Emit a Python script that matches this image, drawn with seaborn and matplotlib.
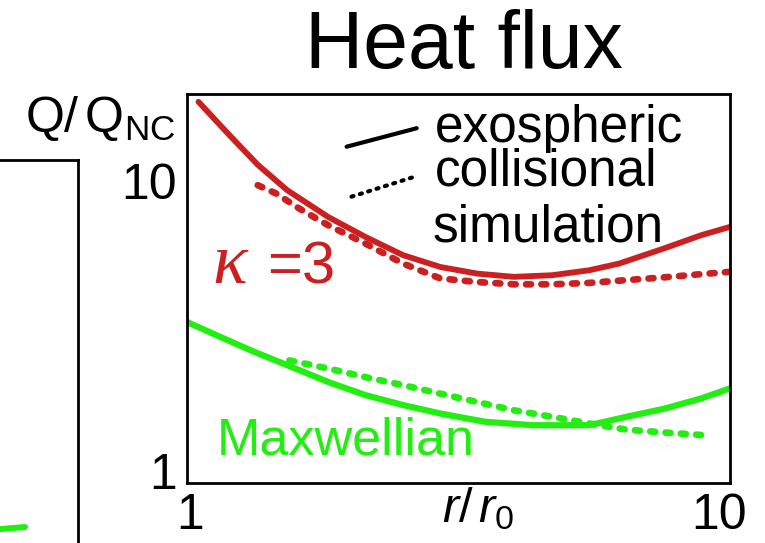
import matplotlib
matplotlib.use("Agg")
import matplotlib.pyplot as plt
import matplotlib.transforms as mtransforms
import seaborn as sns
import numpy as np

# ---------------- data ----------------
r_kappa_exo = [1.05, 1.19, 1.35, 1.53, 1.82, 2.13, 2.5, 2.93, 3.43, 4.0, 4.7, 5.5, 6.25, 7.55, 8.84, 10.0]
q_kappa_exo = [18.8, 14.6, 11.4, 9.31, 7.53, 6.43, 5.56, 5.06, 4.80, 4.68, 4.74, 4.93, 5.20, 5.86, 6.51, 6.96]

r_kappa_col = [1.35, 1.46, 1.61, 1.82, 2.13, 2.5, 2.93, 3.43, 4.0, 4.7, 5.5, 6.45, 7.55, 8.84, 10.0]
q_kappa_col = [9.69, 9.07, 8.05, 7.05, 6.10, 5.20, 4.62, 4.49, 4.41, 4.41, 4.46, 4.56, 4.66, 4.78, 4.87]

r_maxw_exo = [1.0, 1.135, 1.33, 1.556, 1.82, 2.13, 2.5, 2.93, 3.54, 4.34, 5.51, 6.45, 7.55, 8.84, 10.0]
q_maxw_exo = [3.27, 2.94, 2.58, 2.29, 2.03, 1.83, 1.69, 1.58, 1.48, 1.44, 1.44, 1.54, 1.64, 1.78, 1.93]

r_maxw_col = [1.544, 1.82, 2.13, 2.5, 2.93, 3.43, 4.01, 4.7, 5.51, 6.45, 7.55, 8.98]
q_maxw_col = [2.41, 2.26, 2.11, 1.98, 1.85, 1.73, 1.62, 1.54, 1.46, 1.39, 1.36, 1.33]

# fragment of neighbouring panel (only its right end is visible)
left_x = [0.70, 0.862]
left_y = [0.243, 0.2535]

x_ticks = [1, 10]
x_ticklabels = ["1", "10"]
y_ticks = [1, 10]
y_ticklabels = ["1", "10"]

legend_lines = ["exospheric", "collisional", "simulation"]

RED = "#cc1f1f"
GREEN = "#22ee11"

# ---------------- style ----------------
sns.set_style("white")
plt.rcParams["font.family"] = ["Liberation Sans", "DejaVu Sans"]
plt.rcParams["mathtext.fontset"] = "custom"
plt.rcParams["mathtext.rm"] = "Liberation Sans"
plt.rcParams["mathtext.it"] = "Liberation Sans:italic"
for k in ["text.color", "axes.labelcolor", "xtick.color", "ytick.color", "axes.edgecolor"]:
    plt.rcParams[k] = "black"

fig = plt.figure(figsize=(7.65, 5.43), dpi=100)

# ---------------- left (cut-off) panel ----------------
axl = fig.add_axes([-0.4, -0.2, 0.502, 0.9053])
sns.lineplot(x=left_x, y=left_y, ax=axl, color=GREEN, lw=4.3,
             solid_capstyle="round", sort=False, estimator=None)
axl.set_xlim(0, 1)
axl.set_ylim(0, 1)
axl.set_xticks([])
axl.set_yticks([])
for s in ["left", "bottom"]:
    axl.spines[s].set_visible(False)
for s in ["top", "right"]:
    axl.spines[s].set_linewidth(2)
    axl.spines[s].set_color("black")

# ---------------- main panel ----------------
ax = fig.add_axes([0.2444, 0.1105, 0.7098, 0.7164])
dots = (0, (0.75, 1.55))
sns.lineplot(x=r_kappa_exo, y=q_kappa_exo, ax=ax, color=RED, lw=4.2,
             sort=False, estimator=None)
sns.lineplot(x=r_kappa_col, y=q_kappa_col, ax=ax, color=RED, lw=4.8,
             ls=dots, dash_capstyle="round", sort=False, estimator=None)
sns.lineplot(x=r_maxw_exo, y=q_maxw_exo, ax=ax, color=GREEN, lw=4.5,
             sort=False, estimator=None)
sns.lineplot(x=r_maxw_col, y=q_maxw_col, ax=ax, color=GREEN, lw=4.8,
             ls=dots, dash_capstyle="round", sort=False, estimator=None)

ax.set_xscale("log")
ax.set_yscale("log")
ax.set_xlim(1, 10)
ax.set_ylim(0.91, 20)
ax.set_xticks(x_ticks)
ax.set_xticklabels(x_ticklabels)
ax.set_yticks(y_ticks)
ax.set_yticklabels(y_ticklabels)
ax.minorticks_off()
ax.tick_params(axis="both", length=0, labelsize=36, pad=7, colors="black")
for s in ax.spines.values():
    s.set_linewidth(2)
    s.set_color("black")
ax.set_xlabel("")
ax.set_ylabel("")

# nudge x tick labels to where they sit in the reference
xlabs = ax.get_xticklabels()
xlabs[0].set_transform(xlabs[0].get_transform() +
                       mtransforms.ScaledTranslation(3 / 100, 0, fig.dpi_scale_trans))
xlabs[1].set_transform(xlabs[1].get_transform() +
                       mtransforms.ScaledTranslation(-11 / 100, 0, fig.dpi_scale_trans))

# legend drawn as slanted samples + text
ax.plot([0.294, 0.423], [0.8645, 0.912], transform=ax.transAxes, color="black",
        lw=3.0, solid_capstyle="round")
ax.plot([0.303, 0.423], [0.736, 0.789], transform=ax.transAxes, color="black",
        lw=3.0, ls=(0, (0.5, 1.6)), dash_capstyle="round")
ax.text(0.457, 0.7635, legend_lines[0] + "\n" + legend_lines[1],
        transform=ax.transAxes, fontsize=37, va="baseline", ha="left",
        linespacing=0.88)
ax.text(0.453, 0.622, legend_lines[2], transform=ax.transAxes, fontsize=37,
        va="baseline", ha="left")

# series labels
ax.text(0.046, 0.514, "κ", transform=ax.transAxes, fontsize=52, color=RED,
        family=["Liberation Serif", "DejaVu Serif"], style="italic",
        va="baseline", ha="left")
ax.text(0.147, 0.514, "=3", transform=ax.transAxes, fontsize=43, color=RED,
        va="baseline", ha="left")
ax.text(0.0547, 0.072, "Maxwellian", transform=ax.transAxes, fontsize=37.5,
        color=GREEN, va="baseline", ha="left")

# titles / axis labels
fig.text(0.606, 0.8748, "Heat flux", fontsize=58, ha="center", va="baseline")
fig.text(0.0327, 0.757, r"$\mathrm{Q}/\,\mathrm{Q}_{\mathrm{NC}}$", fontsize=36,
         ha="left", va="baseline")
fig.text(0.578, 0.0387, r"$r/\,r_{\mathrm{0}}$", fontsize=35,
         ha="left", va="baseline")

fig.savefig("out.png", dpi=100)
